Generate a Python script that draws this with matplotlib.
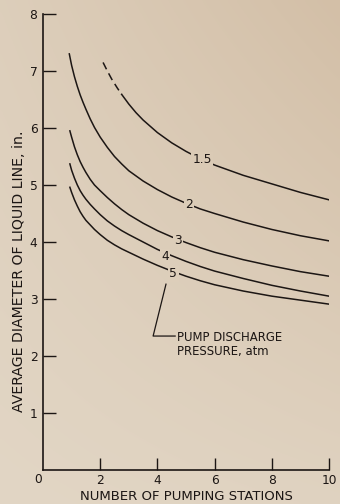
import numpy as np
import matplotlib
matplotlib.use("Agg")
import matplotlib.pyplot as plt

# Average liquid-line diameter (in.) vs number of pumping stations,
# one curve per pump discharge pressure (atm)
x_main = [0.94, 1.0, 1.1, 1.2, 1.3, 1.4, 1.5, 1.65, 1.8, 2.0, 2.25, 2.5, 2.75,
          3.0, 3.5, 4.0, 4.5, 5.0, 5.5, 6, 7, 8, 9, 10]

x_p15 = [2.1, 2.25, 2.4, 2.6, 2.75, 3.0, 3.25, 3.5, 4.0, 4.5, 5.0, 5.5, 6, 7, 8, 9, 10]
d_p15 = [7.15, 7.00, 6.86, 6.70, 6.59, 6.42, 6.27, 6.14, 5.92, 5.74, 5.59, 5.46,
         5.35, 5.17, 5.02, 4.87, 4.74]
p15_dash_end = 2.75

x_p2 = [0.92, 1.0, 1.1, 1.2, 1.3, 1.4, 1.5, 1.65, 1.8, 2.0, 2.25, 2.5, 2.75,
        3.0, 3.5, 4.0, 4.5, 5.0, 5.5, 6, 7, 8, 9, 10]
d_p2 = [7.30, 7.10, 6.90, 6.73, 6.58, 6.45, 6.33, 6.16, 6.01, 5.84, 5.66, 5.50,
        5.37, 5.25, 5.07, 4.92, 4.79, 4.68, 4.58, 4.50, 4.35, 4.22, 4.11, 4.02]

d_p3 = [5.95, 5.84, 5.67, 5.53, 5.41, 5.31, 5.22, 5.10, 5.00, 4.90, 4.78, 4.67,
        4.57, 4.48, 4.33, 4.20, 4.09, 3.99, 3.90, 3.82, 3.69, 3.58, 3.48, 3.40]
d_p4 = [5.37, 5.26, 5.12, 5.00, 4.90, 4.82, 4.75, 4.66, 4.58, 4.48, 4.37, 4.28,
        4.20, 4.13, 4.00, 3.87, 3.76, 3.66, 3.57, 3.49, 3.36, 3.24, 3.14, 3.05]
d_p5 = [4.96, 4.87, 4.74, 4.63, 4.53, 4.45, 4.38, 4.30, 4.22, 4.13, 4.03, 3.95,
        3.88, 3.82, 3.70, 3.59, 3.49, 3.40, 3.32, 3.25, 3.14, 3.05, 2.98, 2.91]

curve_labels = ["1.5", "2", "3", "4", "5"]
label_x = [5.56, 5.10, 4.72, 4.27, 4.55]
label_y = [5.44, 4.65, 4.02, 3.74, 3.44]

x_ticks = [2, 4, 6, 8, 10]
y_ticks = [1, 2, 3, 4, 5, 6, 7, 8]

INK = "#1c1614"
LIGHT = np.array([226, 214, 197]) / 255.0
DARK = np.array([211, 191, 167]) / 255.0


def paper(u, v):
    """Paper tone at figure fraction (u, v): darker toward the upper right."""
    t = np.clip(0.15 * u + 0.85 * v * (0.4 + 0.6 * u), 0, 1)
    return LIGHT * (1 - t) + DARK * t


W, H = 340, 504
fig = plt.figure(figsize=(W / 100, H / 100), dpi=100)

# paper background
bg = fig.add_axes([0, 0, 1, 1], zorder=-10)
uu, vv = np.meshgrid(np.linspace(0, 1, 120), np.linspace(0, 1, 180))
img = paper(uu[..., None], vv[..., None])
bg.imshow(img, origin="lower", extent=[0, 1, 0, 1], aspect="auto", interpolation="bicubic")
bg.set_axis_off()

left, right = 43 / W, 329 / W
bottom, top = (H - 470) / H, (H - 14) / H
ax = fig.add_axes([left, bottom, right - left, top - bottom])
ax.patch.set_alpha(0)
ax.set_xlim(0, 10)
ax.set_ylim(0, 8)

for s in ("top", "right"):
    ax.spines[s].set_visible(False)
for s in ("left", "bottom"):
    ax.spines[s].set_linewidth(1.2)
    ax.spines[s].set_color(INK)

ax.set_xticks(x_ticks)
ax.set_xticklabels([str(v) for v in x_ticks])
ax.set_yticks(y_ticks)
ax.set_yticklabels([str(v) for v in y_ticks])
ax.tick_params(direction="in", length=9, width=1.0, color=INK, labelcolor=INK,
               labelsize=8.8, pad=3)
ax.tick_params(axis="y", pad=4)

ax.text(-0.17, -0.16, "0", ha="center", va="center", fontsize=8.8, color=INK,
        clip_on=False)

ax.set_xlabel("NUMBER OF PUMPING STATIONS", fontsize=9.5, color=INK, labelpad=2)
ax.set_ylabel("AVERAGE DIAMETER OF LIQUID LINE, in.", fontsize=10.2, color=INK)
ax.yaxis.set_label_coords(-0.06, 0.436)

lw = 1.1
# 1.5 atm: dashed where extrapolated, solid afterwards
x15 = np.array(x_p15)
d15 = np.array(d_p15)
m_dash = x15 <= p15_dash_end
m_solid = x15 >= p15_dash_end
ax.plot(x15[m_dash], d15[m_dash], color=INK, lw=lw, dashes=(5, 3))
ax.plot(x15[m_solid], d15[m_solid], color=INK, lw=lw)

ax.plot(x_p2, d_p2, color=INK, lw=lw)
ax.plot(x_main, d_p3, color=INK, lw=lw)
ax.plot(x_main, d_p4, color=INK, lw=lw)
ax.plot(x_main, d_p5, color=INK, lw=lw)

# inline curve labels, set into gaps in the lines
for txt, lx, ly in zip(curve_labels, label_x, label_y):
    fx, fy = fig.transFigure.inverted().transform(ax.transData.transform((lx, ly)))
    ax.text(lx, ly, txt, ha="center", va="center", fontsize=8.8, color=INK,
            bbox=dict(boxstyle="square,pad=0.12", fc=paper(fx, fy), ec="none"),
            zorder=5)

# leader to the pressure note
ax.plot([4.30, 3.85, 4.62], [3.26, 2.35, 2.35], color=INK, lw=0.9)
ax.text(4.68, 2.33, "PUMP DISCHARGE", ha="left", va="center", fontsize=8.4, color=INK)
ax.text(4.68, 2.08, "PRESSURE, atm", ha="left", va="center", fontsize=8.4, color=INK)

fig.savefig("out.png", dpi=100)
